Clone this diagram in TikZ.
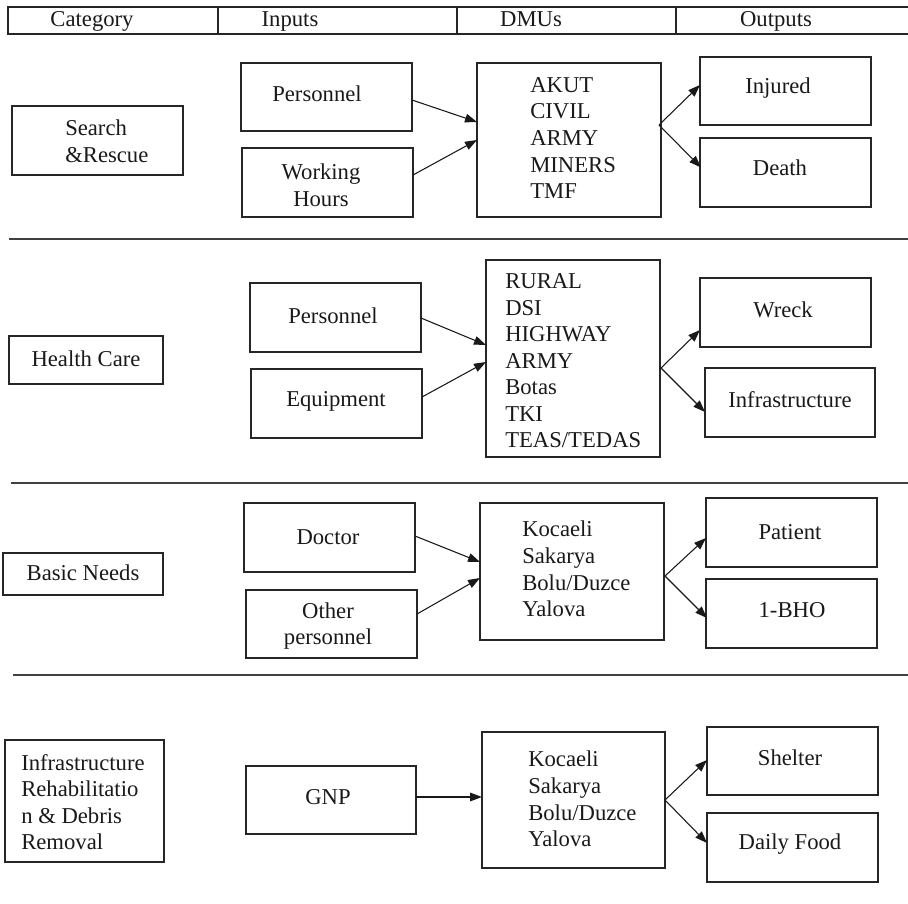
\documentclass[tikz,border=0pt]{standalone}
\usepackage{fontspec}
\setmainfont{Liberation Serif}
\usetikzlibrary{arrows.meta,calc,fit}
\begin{document}
\begin{tikzpicture}[x=0.75pt,y=-0.75pt,
  box/.style={draw=black!85,line width=0.85pt,rectangle,inner sep=0pt,outer sep=0pt},
  txt/.style={inner sep=0pt,text=black!90,font=\fontsize{17}{19.9}\selectfont},
  ltxt/.style={txt,align=left,anchor=west},
  ctxt/.style={txt,align=center},
  htxt/.style={txt,anchor=base},
  arr/.style={draw=black!90,line width=0.8pt,-{Triangle[length=9pt,width=6.5pt]}},
  sep/.style={draw=black!75,line width=1pt},
  hline/.style={draw=black!85,line width=0.8pt}]
\useasboundingbox (0,0) rectangle (908,904);
% header
\draw[hline] (908,7) -- (8,7) -- (8,34) -- (908,34);
\draw[hline] (218,7) -- (218,34);
\draw[hline] (457,7) -- (457,34);
\draw[hline] (676,7) -- (676,34);
\node[htxt] (h1) at (92,26) {Category};
\node[htxt] (h2) at (290,26) {Inputs};
\node[htxt] (h3) at (531,26) {DMUs};
\node[htxt] (h4) at (776,26) {Outputs};
% row 1
\node[box,fit={(12,106)(183,175)}] (c1) {};
\node[ltxt] (c1t) at (65,141.5) {Search\\\&Rescue};
\node[box,fit={(241,63)(412,131)}] (i1a) {};
\node[ctxt] (i1at) at (317,94) {Personnel};
\node[box,fit={(242,148)(413,217)}] (i1b) {};
\node[ctxt] (i1bt) at (321,185) {Working\\Hours};
\node[box,fit={(477,63)(661,217)}] (d1) {};
\node[ltxt] (d1t) at (530,138) {AKUT\\CIVIL\\ARMY\\MINERS\\TMF};
\node[box,fit={(700,57)(871,125)}] (o1a) {};
\node[ctxt] (o1at) at (778,88) {Injured};
\node[box,fit={(700,138)(871,207)}] (o1b) {};
\node[ctxt] (o1bt) at (780,168) {Death};
\coordinate (f1) at ($(d1.east)+(-2,-15)$);
\draw[arr] ($(i1a.east)+(0,3)$) -- ($(d1.west)+(0,-18)$);
\draw[arr] ($(i1b.east)+(0,-7.5)$) -- (d1.west);
\draw[arr] (f1) -- ($(o1a.west)+(0,-6)$);
\draw[arr] (f1) -- ($(o1b.west)+(1,-5)$);
\draw[sep] (9,239) -- (908,239);
% row 2
\node[box,fit={(9,336)(163,384)}] (c2) {};
\node[ctxt] (c2t) at (86,359) {Health Care};
\node[box,fit={(250,283)(421,352)}] (i2a) {};
\node[ctxt] (i2at) at (333,316) {Personnel};
\node[box,fit={(251,369)(422,438)}] (i2b) {};
\node[ctxt] (i2bt) at (336,401) {Equipment};
\node[box,fit={(486,260)(660,457)}] (d2) {};
\node[ltxt] (d2t) at (505,361) {RURAL\\DSI\\HIGHWAY\\ARMY\\Botas\\TKI\\TEAS/TEDAS};
\node[box,fit={(700,278)(871,347)}] (o2a) {};
\node[ctxt] (o2at) at (783,310) {Wreck};
\node[box,fit={(705,368)(875,437)}] (o2b) {};
\node[ctxt] (o2bt) at (790,400) {Infrastructure};
\coordinate (f2) at ($(d2.east)+(1,9.5)$);
\draw[arr] ($(i2a.east)+(0,0.5)$) -- ($(d2.west)+(0,-13.5)$);
\draw[arr] ($(i2b.east)+(0,-6.5)$) -- ($(d2.west)+(0,3.5)$);
\draw[arr] (f2) -- ($(o2a.west)+(0,17.5)$);
\draw[arr] (f2) -- ($(o2b.west)+(0,9.5)$);
\draw[sep] (11,483) -- (908,483);
% row 3
\node[box,fit={(3,553)(163,595)}] (c3) {};
\node[ctxt] (c3t) at (83,573) {Basic Needs};
\node[box,fit={(244,503)(415,572)}] (i3a) {};
\node[ctxt] (i3at) at (328,537) {Doctor};
\node[box,fit={(246,590)(417,658)}] (i3b) {};
\node[ctxt] (i3bt) at (328,626) {Other\\personnel};
\node[box,fit={(480,503)(664,640)}] (d3) {};
\node[ltxt] (d3t) at (522,569) {Kocaeli\\Sakarya\\Bolu/Duzce\\Yalova};
\node[box,fit={(706,498)(877,567)}] (o3a) {};
\node[ctxt] (o3at) at (790,532) {Patient};
\node[box,fit={(706,579)(877,648)}] (o3b) {};
\node[ctxt] (o3bt) at (792,610) {1-BHO};
\coordinate (f3) at ($(d3.east)+(1,4.5)$);
\draw[arr] ($(i3a.east)+(0,-1.5)$) -- ($(d3.west)+(0,-9.5)$);
\draw[arr] ($(i3b.east)+(0,-10)$) -- ($(d3.west)+(0,6.5)$);
\draw[arr] (f3) -- ($(o3a.west)+(0,5.5)$);
\draw[arr] (f3) -- ($(o3b.west)+(1,4.5)$);
\draw[sep] (13,675) -- (908,675);
% row 4
\node[box,fit={(5,740)(164,862)}] (c4) {};
\node[ltxt] (c4t) at (21,802) {Infrastructure\\Rehabilitatio\\n \& Debris\\Removal};
\node[box,fit={(246,766)(416,834)}] (i4) {};
\node[ctxt] (i4t) at (328,797) {GNP};
\node[box,fit={(482,732)(665,868)}] (d4) {};
\node[ltxt] (d4t) at (528,799) {Kocaeli\\Sakarya\\Bolu/Duzce\\Yalova};
\node[box,fit={(707,727)(878,795)}] (o4a) {};
\node[ctxt] (o4at) at (790,758) {Shelter};
\node[box,fit={(707,813)(878,882)}] (o4b) {};
\node[ctxt] (o4bt) at (790,844) {Daily Food};
\coordinate (f4) at (d4.east);
\draw[arr] ($(i4.east)+(0,-3)$) -- ($(d4.west)+(0,-3)$);
\draw[arr] (f4) -- ($(o4a.west)+(0,-1)$);
\draw[arr] (f4) -- ($(o4b.west)+(0,-4.5)$);
\end{tikzpicture}
\end{document}
